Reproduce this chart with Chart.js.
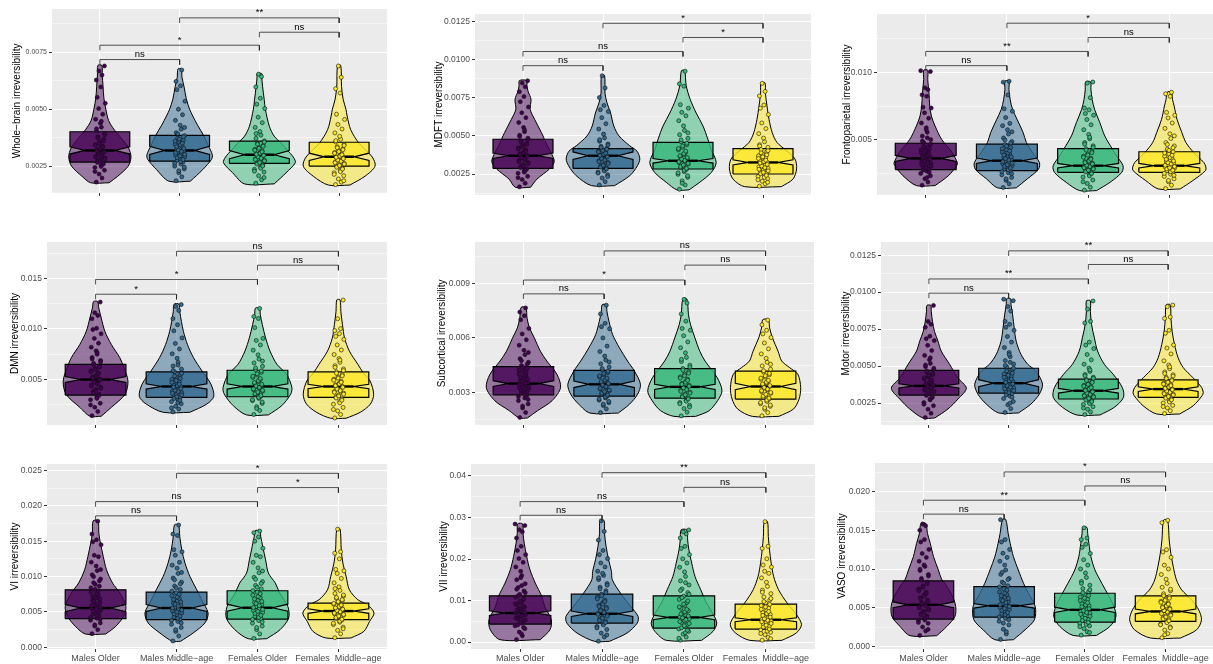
<!DOCTYPE html>
<html><head><meta charset="utf-8">
<script src="https://cdn.jsdelivr.net/npm/chart.js@4"></script>
<style>
html,body{margin:0;padding:0;background:#fff;overflow:hidden}
#wrap{position:relative;width:1213px;height:664px;overflow:hidden;background:#fff}
#wrap canvas{position:absolute}
</style></head>
<body><div id="wrap"></div>
<script>
// ---------------- DATA (all y values in units of UNIT) ----------------
const UNIT = 1e-5;
const categories = ['Males Older', 'Males Middle\u2212age', 'Females Older', 'Females  Middle\u2212age'];
const bracketPairs = [[1, 2], [1, 3], [3, 4], [2, 4]];

// Whole-brain
const wbTitle = 'Whole\u2212brain irreversibility';
const wbTicks = ['0.0025', '0.0050', '0.0075'];
const wbRange = [133, 940];
const wbBoxes = [[268,303,319,335,401],[272,301,319,337,385],[262,283,300,318,360],[250,275,291,307,355]];
const wbViolins = [
  [[177,0.23],[206,0.45],[250,0.71],[290,0.78],[330,0.72],[370,0.55],[410,0.36],[450,0.22],[500,0.15],[550,0.10],[600,0.08],[650,0.06],[692,0.05]],
  [[184,0.27],[235,0.58],[280,0.80],[300,0.82],[340,0.72],[385,0.60],[430,0.45],[470,0.33],[500,0.25],[544,0.17],[600,0.11],[640,0.06],[677,0.04]],
  [[172,0.37],[221,0.67],[265,0.90],[290,0.85],[320,0.70],[350,0.55],[382,0.37],[425,0.25],[500,0.15],[544,0.12],[600,0.08],[640,0.06],[656,0.06]],
  [[167,0.27],[206,0.65],[250,0.90],[290,0.83],[350,0.50],[410,0.29],[470,0.20],[500,0.17],[544,0.10],[600,0.06],[692,0.04]]
];
const wbPoints = [
  [180,198,215,232,244,255,262,271,279,286,293,300,308,314,322,329,337,345,356,368,379,392,405,421,438,456,478,503,526,552,598,628,650,668,690],
  [186,203,221,238,250,259,268,276,283,291,298,305,312,318,324,331,338,346,354,363,373,384,397,412,430,451,476,500,535,586,603,622,672],
  [175,190,208,224,236,246,255,263,270,276,282,288,294,299,304,310,317,324,332,341,350,361,372,386,402,420,441,465,503,522,548,598,643,654],
  [169,180,194,208,221,232,241,249,256,262,268,274,280,286,291,297,303,310,318,326,335,345,356,368,381,396,413,433,455,478,571,590,640,690]
];
const wbPoints2 = [
  [226,248,259,266,273,281,289,296,303,311,317,326,333,341,349,360,374,388,414,447],
  [230,246,263,270,279,287,295,302,309,315,321,328,335,343,351,360,369,379,392,420],
  [200,228,241,251,259,266,273,279,285,291,297,302,307,313,320,328,337,346,356,393],
  [186,214,226,237,245,253,259,265,271,277,283,289,294,300,307,314,322,331,341,362]
];
const wbBracketY = [718, 781, 838, 901];
const wbSig = ['ns', '*', 'ns', '**'];

// MDFT
const mdftTitle = 'MDFT irreversibility';
const mdftTicks = ['0.0025', '0.0050', '0.0075', '0.0100', '0.0125'];
const mdftRange = [113, 1300];
const mdftBoxes = [[287,352,370,388,478],[287,345,370,395,417],[283,322,337,352,457],[250,309,326,343,417]];
const mdftViolins = [
  [[163,0.19],[217,0.35],[283,0.66],[330,0.78],[380,0.72],[440,0.60],[500,0.50],[522,0.46],[609,0.29],[674,0.18],[740,0.20],[790,0.13],[826,0.10],[863,0.09]],
  [[174,0.29],[239,0.67],[304,0.86],[350,0.92],[400,0.85],[435,0.67],[500,0.40],[565,0.27],[650,0.19],[717,0.10],[780,0.05],[896,0.04]],
  [[146,0.15],[196,0.42],[261,0.71],[326,0.83],[413,0.70],[480,0.62],[565,0.50],[650,0.33],[740,0.18],[830,0.08],[928,0.04]],
  [[167,0.46],[217,0.75],[283,0.84],[348,0.80],[400,0.60],[457,0.35],[522,0.23],[609,0.15],[696,0.10],[780,0.06],[848,0.05]]
];
const mdftPoints = [
  [166,190,214,235,255,271,284,298,311,325,338,350,362,372,383,395,408,422,437,452,468,485,505,528,556,588,620,652,690,725,758,790,822,848,862],
  [178,200,224,245,262,276,289,301,313,325,337,348,358,367,375,383,391,400,409,419,432,447,465,487,512,545,580,620,660,672,700,752,815,895],
  [150,178,205,228,248,265,280,292,304,315,325,334,343,353,364,377,392,408,425,443,462,484,508,536,566,600,632,655,682,705,826,842,925],
  [170,186,203,220,234,246,256,266,276,287,298,308,318,327,336,346,357,369,382,396,410,425,442,462,486,515,548,585,640,682,703,762,792,845]
];
const mdftPoints2 = [
  [226,262,279,292,305,318,331,344,356,367,378,389,401,414,429,444,460,476,497,540],
  [233,256,270,283,295,307,319,331,342,352,362,371,379,387,395,404,413,425,440,475],
  [190,238,258,274,287,298,309,320,330,339,348,358,370,384,400,417,434,452,474,520],
  [196,212,228,241,252,261,271,281,292,303,313,322,331,341,352,363,376,389,403,434]
];
const mdftBracketY = [961, 1054, 1146, 1239];
const mdftSig = ['ns', 'ns', '*', '*'];

// Frontoparietal
const fpTitle = 'Frontoparietal irreversibility';
const fpTicks = ['0.005', '0.010'];
const fpRange = [93, 1431];
const fpBoxes = [[280,341,363,385,475],[272,326,346,366,468],[260,292,309,326,436],[260,292,309,326,412]];
const fpViolins = [
  [[162,0.23],[235,0.56],[309,0.76],[330,0.78],[407,0.65],[505,0.39],[603,0.23],[676,0.14],[750,0.10],[848,0.08],[946,0.05],[1015,0.05]],
  [[145,0.23],[211,0.50],[284,0.78],[333,0.80],[407,0.63],[480,0.48],[554,0.40],[652,0.25],[725,0.14],[799,0.08],[873,0.05],[934,0.05]],
  [[125,0.21],[186,0.54],[260,0.83],[309,0.86],[382,0.70],[456,0.55],[529,0.41],[627,0.29],[725,0.16],[799,0.10],[873,0.07],[929,0.06]],
  [[137,0.27],[199,0.58],[272,0.89],[300,0.90],[333,0.85],[407,0.60],[480,0.41],[554,0.31],[652,0.19],[750,0.12],[799,0.08],[853,0.05]]
];
const fpPoints = [
  [165,188,212,234,252,268,283,297,311,325,338,350,361,372,384,397,411,426,442,460,480,502,528,556,590,625,660,700,735,742,822,833,872,885,1005,1012],
  [148,175,200,222,241,257,272,285,298,310,322,334,345,356,368,381,395,410,426,444,465,488,514,543,575,605,622,665,712,730,832,927,934],
  [128,150,178,203,225,243,258,270,280,290,299,308,317,327,338,350,364,379,396,414,434,456,480,508,540,575,612,650,682,695,722,735,812,920,928],
  [140,165,190,212,230,246,259,270,280,290,299,308,317,327,338,350,363,378,394,412,432,455,480,510,545,585,625,662,682,703,822,841,852]
];
const fpPoints2 = [
  [222,260,276,290,304,318,331,344,356,367,378,390,404,418,434,451,470,492,515,575],
  [212,249,265,279,292,304,316,328,339,351,362,374,388,402,418,435,455,476,500,560],
  [190,234,250,264,275,285,294,303,312,322,332,344,357,371,387,405,424,445,468,520],
  [200,238,252,264,275,285,294,303,312,322,332,344,356,370,386,403,422,442,466,530]
];
const fpBracketY = [1049, 1154, 1257, 1363];
const fpSig = ['ns', '**', 'ns', '*'];

// DMN
const dmnTitle = 'DMN irreversibility';
const dmnTicks = ['0.005', '0.010', '0.015'];
const dmnRange = [47, 1861];
const dmnBoxes = [[343,467,497,527,648],[320,402,428,454,572],[326,402,428,454,589],[320,406,428,450,572]];
const dmnViolins = [
  [[133,0.14],[221,0.39],[352,0.73],[484,0.80],[615,0.70],[713,0.60],[844,0.39],[975,0.23],[1107,0.14],[1205,0.08],[1270,0.05]],
  [[172,0.33],[254,0.75],[330,0.92],[451,0.85],[582,0.63],[713,0.42],[844,0.27],[975,0.17],[1074,0.12],[1172,0.08],[1244,0.06]],
  [[146,0.27],[238,0.60],[352,0.82],[418,0.85],[549,0.72],[648,0.48],[779,0.31],[910,0.20],[1041,0.12],[1140,0.07],[1205,0.05]],
  [[113,0.19],[172,0.54],[254,0.79],[352,0.87],[484,0.78],[560,0.62],[648,0.48],[779,0.27],[910,0.15],[1041,0.10],[1172,0.06],[1287,0.04]]
];
const dmnPoints = [
  [138,180,222,262,296,325,350,375,398,420,442,463,483,502,522,542,563,585,608,632,658,686,716,748,782,818,858,905,950,992,1005,1100,1132,1160,1265],
  [176,205,232,256,278,299,318,335,352,368,384,399,414,428,443,460,478,498,520,545,572,600,632,668,708,752,800,855,910,980,1040,1102,1182,1222,1240],
  [150,190,228,260,288,310,330,348,365,381,397,412,427,442,458,476,496,518,542,568,596,628,662,700,742,788,840,885,905,1012,1102,1122,1202],
  [116,150,186,220,252,280,304,325,344,362,379,396,412,428,444,461,480,500,522,546,573,602,634,668,705,745,790,840,895,925,952,982,1002,1100,1285]
];
const dmnPoints2 = [
  [245,310,338,362,386,409,431,453,473,492,512,532,552,574,596,620,645,672,700,765],
  [215,268,290,309,327,344,360,376,391,406,421,436,451,469,488,509,532,558,586,640],
  [210,274,297,320,339,356,373,389,404,419,434,450,467,486,507,530,555,582,612,680],
  [200,266,292,314,334,352,370,387,403,420,436,452,470,490,511,534,559,587,618,690]
];
const dmnBracketY = [1343, 1490, 1631, 1769];
const dmnSig = ['*', '*', 'ns', 'ns'];

// Subcortical
const subTitle = 'Subcortical irreversibility';
const subTicks = ['0.003', '0.006', '0.009'];
const subRange = [122, 1127];
const subBoxes = [[287,333,349,365,442],[280,327,345,363,422],[269,317,331,345,431],[264,315,333,351,418]];
const subViolins = [
  [[160,0.10],[200,0.35],[255,0.71],[327,0.92],[400,0.83],[473,0.58],[527,0.42],[600,0.27],[655,0.15],[709,0.09],[767,0.06]],
  [[187,0.35],[236,0.63],[291,0.83],[345,0.90],[418,0.75],[473,0.58],[545,0.38],[618,0.21],[691,0.12],[745,0.07],[782,0.05]],
  [[169,0.27],[200,0.60],[255,0.81],[309,0.92],[382,0.80],[473,0.50],[527,0.37],[600,0.25],[673,0.14],[727,0.09],[814,0.05]],
  [[169,0.33],[209,0.69],[264,0.83],[327,0.87],[400,0.80],[436,0.60],[473,0.40],[527,0.31],[600,0.17],[655,0.10],[700,0.07]]
];
const subPoints = [
  [163,190,215,237,255,270,284,296,307,317,327,337,347,357,367,378,390,403,417,432,448,466,486,508,532,560,590,622,652,700,722,742,765],
  [190,210,228,244,258,270,281,291,301,310,319,328,337,346,355,364,374,385,397,410,424,440,458,478,500,525,555,600,650,662,680,732,780],
  [172,192,212,230,245,258,270,281,292,302,312,321,330,340,350,361,373,386,400,415,432,450,470,493,518,546,578,612,642,652,692,732,792,812],
  [172,190,208,224,238,251,263,274,285,295,305,315,324,333,342,352,362,373,385,398,412,428,446,466,488,512,540,572,602,622,642,672,698]
];
const subPoints2 = [
  [226,262,276,290,301,312,322,332,342,352,362,372,383,396,410,424,438,455,475,520],
  [236,251,264,276,286,296,305,314,323,332,341,350,360,369,379,391,404,417,432,468],
  [220,238,252,264,276,287,297,307,316,325,335,345,356,367,379,392,407,423,440,482],
  [216,231,245,258,269,280,290,300,310,319,328,338,347,357,367,379,392,405,420,455]
];
const subBracketY = [842, 918, 1000, 1078];
const subSig = ['ns', '*', 'ns', 'ns'];

// Motor
const motorTitle = 'Motor irreversibility';
const motorTicks = ['0.0025', '0.0050', '0.0075', '0.0100', '0.0125'];
const motorRange = [102, 1339];
const motorBoxes = [[304,352,366,380,471],[317,360,384,408,485],[277,317,333,349,411],[288,328,344,360,407]];
const motorViolins = [
  [[149,0.15],[210,0.48],[277,0.73],[350,0.94],[422,0.72],[512,0.52],[601,0.31],[668,0.23],[735,0.14],[803,0.09],[870,0.06],[910,0.05]],
  [[183,0.25],[243,0.56],[310,0.77],[378,0.85],[467,0.68],[512,0.48],[579,0.31],[668,0.19],[758,0.14],[847,0.10],[914,0.06],[955,0.05]],
  [[169,0.29],[221,0.65],[288,0.88],[355,0.85],[445,0.62],[512,0.40],[601,0.23],[691,0.15],[780,0.08],[870,0.05],[941,0.05]],
  [[176,0.29],[232,0.63],[299,0.85],[320,0.88],[355,0.84],[422,0.62],[489,0.38],[556,0.25],[646,0.16],[735,0.10],[825,0.07],[914,0.05]]
];
const motorPoints = [
  [152,180,208,232,253,271,287,301,314,326,337,348,358,367,377,388,400,413,427,442,458,476,496,518,543,572,605,640,672,685,702,762,782,802,910],
  [186,212,238,260,280,297,313,327,340,352,363,374,384,395,406,418,431,445,460,476,494,514,537,563,592,625,662,700,742,762,782,802,872,902,942,952],
  [172,190,208,225,240,253,265,276,286,295,304,313,322,331,340,349,359,370,382,395,409,425,443,463,486,512,542,578,618,642,662,792,802,885,940],
  [179,198,217,234,250,264,277,289,299,309,318,327,336,345,354,363,373,384,396,409,424,441,460,482,507,535,582,622,642,722,742,822,832,902,912]
];
const motorPoints2 = [
  [242,278,294,308,320,331,342,353,362,372,382,394,406,420,434,450,466,485,507,556],
  [249,289,305,320,334,346,357,368,379,390,400,412,424,438,452,468,485,504,525,578],
  [216,246,259,270,281,290,299,308,317,326,335,344,354,364,376,389,402,417,434,474],
  [226,257,271,283,294,304,313,322,331,340,349,358,368,378,390,402,416,432,450,495]
];
const motorBracketY = [993, 1089, 1187, 1279];
const motorSig = ['ns', '**', 'ns', '**'];

// VI
const viTitle = 'VI irreversibility';
const viTicks = ['0.000', '0.005', '0.010', '0.015', '0.020', '0.025'];
const viRange = [-24, 2594];
const viBoxes = [[405,505,556,607,814],[391,508,556,604,782],[400,510,560,610,800],[391,480,513,546,626]];
const viViolins = [
  [[188,0.25],[297,0.50],[438,0.69],[579,0.75],[767,0.60],[909,0.42],[1097,0.27],[1285,0.19],[1474,0.12],[1615,0.08],[1789,0.06]],
  [[85,0.10],[202,0.41],[344,0.70],[485,0.78],[673,0.62],[814,0.50],[1003,0.33],[1191,0.21],[1379,0.13],[1568,0.08],[1733,0.05]],
  [[122,0.23],[250,0.56],[414,0.77],[579,0.75],[767,0.55],[909,0.44],[1050,0.27],[1238,0.20],[1427,0.13],[1568,0.08],[1648,0.06]],
  [[132,0.31],[226,0.63],[367,0.77],[485,0.88],[600,0.72],[673,0.48],[814,0.27],[1003,0.19],[1191,0.11],[1379,0.07],[1676,0.04]]
];
const viPoints = [
  [192,250,300,345,382,410,440,470,498,525,550,575,602,632,665,700,738,778,820,865,915,968,1025,1085,1150,1205,1282,1302,1452,1492,1522,1602,1785],
  [90,160,225,280,325,365,396,428,458,487,515,542,568,596,626,658,692,730,772,818,868,922,980,1045,1120,1162,1202,1302,1352,1382,1582,1602,1730],
  [126,190,250,300,342,378,408,438,467,495,522,549,576,604,634,666,700,738,780,826,876,930,990,1055,1125,1202,1282,1302,1402,1502,1562,1622,1645],
  [136,190,240,285,322,355,384,410,433,455,475,494,512,530,549,568,588,610,634,660,690,724,762,805,855,912,975,1045,1082,1102,1252,1332,1352,1672]
];
const viPoints2 = [
  [320,396,425,455,484,512,538,562,588,617,648,682,718,758,798,842,890,940,1000,1100],
  [250,345,380,412,442,472,500,528,555,582,610,642,675,711,750,795,842,896,955,1060],
  [280,360,393,423,452,480,508,535,562,590,619,650,683,719,758,802,850,903,962,1080],
  [262,340,370,397,421,444,465,485,503,521,540,558,578,598,621,646,674,705,740,830]
];
const viBracketY = [1860, 2062, 2260, 2462];
const viSig = ['ns', 'ns', '*', '*'];

// VII
const viiTitle = 'VII irreversibility';
const viiTicks = ['0.00', '0.01', '0.02', '0.03', '0.04'];
const viiRange = [-168, 4289];
const viiBoxes = [[433,641,697,753,1114],[457,617,681,745,1154],[337,537,593,649,1114],[313,489,537,585,914]];
const viiViolins = [
  [[56,0.49],[297,0.73],[537,0.76],[858,0.60],[1098,0.53],[1419,0.37],[1740,0.24],[2060,0.16],[2381,0.10],[2621,0.07],[2846,0.06]],
  [[16,0.18],[216,0.61],[457,0.86],[617,0.88],[858,0.70],[1178,0.45],[1500,0.25],[1700,0.23],[1980,0.16],[2300,0.10],[2621,0.06],[2926,0.05]],
  [[40,0.43],[257,0.71],[457,0.80],[697,0.70],[938,0.55],[1259,0.41],[1579,0.27],[1900,0.19],[2220,0.12],[2461,0.09],[2701,0.07]],
  [[40,0.39],[216,0.74],[417,0.87],[657,0.75],[938,0.52],[1259,0.31],[1579,0.19],[1900,0.13],[2220,0.09],[2541,0.06],[2902,0.04]]
];
const viiPoints = [
  [60,150,240,320,390,450,505,555,603,650,695,740,787,838,892,950,1012,1080,1152,1230,1315,1405,1500,1600,1705,1810,1920,2010,2105,2205,2305,2505,2655,2705,2805,2842],
  [20,120,215,300,375,440,498,550,598,645,690,735,782,832,886,945,1010,1080,1155,1235,1320,1410,1505,1605,1655,1705,1810,1905,2010,2105,2205,2455,2665,2922],
  [44,120,190,255,315,370,422,470,516,560,604,650,700,755,815,880,950,1025,1105,1190,1280,1375,1475,1580,1690,1800,1905,2005,2105,2255,2305,2505,2605,2655,2700],
  [44,110,175,235,290,340,385,428,468,506,543,580,620,663,710,762,818,878,942,1010,1085,1165,1250,1340,1440,1545,1655,1705,1805,1855,2005,2255,2305,2900]
];
const viiPoints2 = [
  [200,350,410,478,530,580,628,672,718,763,812,865,920,980,1045,1115,1190,1270,1360,1550],
  [170,340,410,470,522,574,622,667,712,758,806,858,914,975,1042,1115,1195,1280,1370,1550],
  [90,225,285,340,395,446,493,538,582,627,675,727,784,846,915,990,1068,1150,1240,1430],
  [80,205,262,312,362,406,448,487,525,562,600,641,686,735,788,846,908,975,1048,1200]
];
const viiBracketY = [3054, 3383, 3727, 4080];
const viiSig = ['ns', 'ns', 'ns', '**'];

// VASO
const vasoTitle = 'VASO irreversibility';
const vasoTicks = ['0.000', '0.005', '0.010', '0.015', '0.020'];
const vasoRange = [-34, 2374];
const vasoBoxes = [[353,500,538,576,847],[378,495,525,555,774],[314,439,473,507,688],[323,421,452,483,654]];
const vasoViolins = [
  [[138,0.33],[258,0.58],[387,0.78],[516,0.80],[650,0.72],[800,0.55],[870,0.45],[989,0.37],[1161,0.25],[1333,0.17],[1462,0.10],[1591,0.06]],
  [[86,0.23],[215,0.52],[344,0.75],[516,0.77],[688,0.60],[817,0.48],[989,0.35],[1161,0.23],[1333,0.15],[1462,0.10],[1643,0.04]],
  [[142,0.29],[258,0.62],[387,0.77],[516,0.72],[645,0.60],[817,0.42],[989,0.25],[1161,0.15],[1333,0.10],[1462,0.07],[1540,0.05]],
  [[108,0.37],[215,0.77],[344,0.89],[473,0.82],[600,0.65],[731,0.40],[860,0.27],[1032,0.19],[1204,0.13],[1376,0.09],[1634,0.05]]
];
const vasoPoints = [
  [142,200,252,298,335,365,395,425,455,484,512,540,568,598,630,665,702,742,786,832,880,930,982,1035,1055,1102,1152,1202,1255,1352,1382,1502,1562,1585],
  [90,160,222,278,325,362,395,425,453,479,504,528,553,580,608,638,670,705,744,786,832,880,932,988,1052,1102,1152,1205,1255,1352,1382,1640],
  [146,190,230,265,295,322,350,377,403,428,452,476,500,525,551,578,607,638,672,708,748,792,840,892,950,1002,1052,1122,1202,1282,1322,1382,1402,1535],
  [112,165,212,252,288,318,345,370,393,414,434,453,472,492,513,535,558,584,612,644,680,720,765,815,870,930,1002,1052,1152,1222,1252,1602,1632]
];
const vasoPoints2 = [
  [220,310,340,380,410,440,470,498,526,554,583,614,648,684,723,765,810,858,910,1000],
  [190,300,345,380,410,438,465,491,516,541,566,593,622,654,690,728,770,815,865,960],
  [180,255,285,310,336,362,390,415,440,464,488,512,538,565,594,625,658,694,732,815],
  [150,240,280,306,331,356,381,403,424,444,463,482,502,523,546,570,596,624,656,740]
];
const vasoBracketY = [1712, 1892, 2077, 2258];
const vasoSig = ['ns', '**', 'ns', '*'];

// ---------------- STYLE / LAYOUT ----------------
const FILLS = [[68,1,84],[49,104,142],[53,183,121],[253,231,37]];
const JITTER = [-0.045,0.027,-0.010,0.058,-0.062,0.016,0.042,-0.030,0.004,0.064,-0.050,0.022,-0.018,0.053,-0.037,0.010,0.034,-0.057,-0.004,0.047,-0.024,0.062,-0.042,0.019,0.007,-0.053,0.036,-0.015,0.068,-0.033,0.012];
const LAYOUT = [
  {x:0,   y:0,   left:52,  right:387,  top:9,   bottom:193, titleX:17,  tickFont:7},
  {x:410, y:0,   left:475, right:811,  top:14,  bottom:196, titleX:439, tickFont:8.5},
  {x:820, y:0,   left:877, right:1218, top:14,  bottom:196, titleX:847, tickFont:8.5},
  {x:0,   y:225, left:47,  right:387,  top:242, bottom:426, titleX:15,  tickFont:8.5},
  {x:410, y:225, left:475, right:814,  top:242, bottom:426, titleX:442, tickFont:8.5},
  {x:820, y:225, left:881, right:1216, top:242, bottom:426, titleX:846, tickFont:8.5},
  {x:0,   y:450, left:47,  right:387,  top:464, bottom:649, titleX:15,  tickFont:8.5, xlabels:true},
  {x:410, y:450, left:471, right:815,  top:464, bottom:649, titleX:444, tickFont:8.5, xlabels:true},
  {x:820, y:450, left:875, right:1214, top:463, bottom:649, titleX:842, tickFont:8.5, xlabels:true}
];
const join = (a, b) => a.map((arr, g) => arr.concat(b[g]));
const PANELS = [
  {title:wbTitle, ticks:wbTicks, range:wbRange, boxes:wbBoxes, violins:wbViolins, points:join(wbPoints, wbPoints2), br:wbBracketY, sig:wbSig},
  {title:mdftTitle, ticks:mdftTicks, range:mdftRange, boxes:mdftBoxes, violins:mdftViolins, points:join(mdftPoints, mdftPoints2), br:mdftBracketY, sig:mdftSig},
  {title:fpTitle, ticks:fpTicks, range:fpRange, boxes:fpBoxes, violins:fpViolins, points:join(fpPoints, fpPoints2), br:fpBracketY, sig:fpSig},
  {title:dmnTitle, ticks:dmnTicks, range:dmnRange, boxes:dmnBoxes, violins:dmnViolins, points:join(dmnPoints, dmnPoints2), br:dmnBracketY, sig:dmnSig},
  {title:subTitle, ticks:subTicks, range:subRange, boxes:subBoxes, violins:subViolins, points:join(subPoints, subPoints2), br:subBracketY, sig:subSig},
  {title:motorTitle, ticks:motorTicks, range:motorRange, boxes:motorBoxes, violins:motorViolins, points:join(motorPoints, motorPoints2), br:motorBracketY, sig:motorSig},
  {title:viTitle, ticks:viTicks, range:viRange, boxes:viBoxes, violins:viViolins, points:join(viPoints, viPoints2), br:viBracketY, sig:viSig},
  {title:viiTitle, ticks:viiTicks, range:viiRange, boxes:viiBoxes, violins:viiViolins, points:join(viiPoints, viiPoints2), br:viiBracketY, sig:viiSig},
  {title:vasoTitle, ticks:vasoTicks, range:vasoRange, boxes:vasoBoxes, violins:vasoViolins, points:join(vasoPoints, vasoPoints2), br:vasoBracketY, sig:vasoSig}
];

Chart.defaults.font.family = "'Liberation Sans', Arial, sans-serif";
const rgba = (c, a) => `rgba(${c[0]},${c[1]},${c[2]},${a})`;
const BOX_HALF = 0.375, NOTCH_IN = 0.1875;

function violinPath(i, prof) {
  const r = prof.map(([y, w]) => ({x: i + w / 2, y: y * UNIT}));
  const l = prof.slice().reverse().map(([y, w]) => ({x: i - w / 2, y: y * UNIT}));
  return r.concat(l, [r[0]]);
}
function boxPath(i, b) {
  const [q1, nlo, med, nhi, q3] = b.map(v => v * UNIT);
  const L = i - BOX_HALF, R = i + BOX_HALF;
  return [[L,q1],[L,nlo],[L+NOTCH_IN,med],[L,nhi],[L,q3],[R,q3],[R,nhi],[R-NOTCH_IN,med],[R,nlo],[R,q1],[L,q1]].map(([x,y]) => ({x, y}));
}

function buildPanel(p, lay) {
  const yMin = p.range[0] * UNIT, yMax = p.range[1] * UNIT;
  const majors = p.ticks.map(Number);
  const step = majors.length > 1 ? majors[1] - majors[0] : majors[0];
  const tickVals = [];
  for (let k = -1; k <= majors.length; k++) {
    const mj = majors[0] + k * step;
    if (k >= 0 && k < majors.length) tickVals.push({value: majors[k], major: true});
    else if (mj >= yMin && mj <= yMax) tickVals.push({value: mj, major: true});
    const mn = mj + step / 2;
    if (mn >= yMin && mn <= yMax && k < majors.length) tickVals.push({value: mn, major: false});
  }
  tickVals.sort((a, b) => a.value - b.value);

  const datasets = [];
  for (let g = 0; g < 4; g++) {
    const i = g + 1, col = FILLS[g];
    datasets.push({type:'line', data: violinPath(i, p.violins[g]), borderColor:'#000', borderWidth:1,
      backgroundColor: rgba(col, 0.5), fill:'shape', tension:0.3, pointRadius:0, order:10});
    datasets.push({type:'line', data: boxPath(i, p.boxes[g]), borderColor:'#000', borderWidth:1.2,
      backgroundColor: rgba(col, 0.8), fill:'shape', tension:0, pointRadius:0, order:8});
    datasets.push({type:'line', data: [{x:i-BOX_HALF+NOTCH_IN, y:p.boxes[g][2]*UNIT},{x:i+BOX_HALF-NOTCH_IN, y:p.boxes[g][2]*UNIT}],
      borderColor:'#000', borderWidth:2.4, fill:false, pointRadius:0, order:7});
    datasets.push({type:'scatter', data: p.points[g].map((v, k) => ({x: i + JITTER[k % JITTER.length], y: v * UNIT})),
      backgroundColor: rgba(col, 1), borderColor:'#111', borderWidth:0.6, pointRadius:2.0, order:5});
  }
  const tip = 0.028 * (yMax - yMin);
  bracketPairs.forEach(([a, b], k) => {
    const h = p.br[k] * UNIT;
    datasets.push({type:'line', data:[{x:a,y:h-tip},{x:a,y:h},{x:b,y:h},{x:b,y:h-tip}],
      borderColor:'rgba(40,40,40,0.9)', borderWidth:0.9, fill:false, pointRadius:0, tension:0, order:1});
  });

  const xAxisH = lay.xlabels ? 15 : 6;
  const cw = lay.right - lay.x, ch = lay.bottom - lay.y + xAxisH;
  const canvas = document.createElement('canvas');
  canvas.width = cw; canvas.height = ch;
  canvas.style.left = lay.x + 'px'; canvas.style.top = lay.y + 'px';
  canvas.style.width = cw + 'px'; canvas.style.height = ch + 'px';
  document.getElementById('wrap').appendChild(canvas);

  const panelPlugin = {
    id: 'panelDecor',
    beforeDraw(chart) {
      const {ctx, chartArea: a} = chart;
      ctx.save(); ctx.fillStyle = '#EBEBEB';
      ctx.fillRect(a.left, a.top, a.right - a.left, a.bottom - a.top); ctx.restore();
    },
    afterDatasetsDraw(chart) {
      const {ctx, scales: {x, y}} = chart;
      ctx.save();
      ctx.fillStyle = '#000'; ctx.font = "9.5px 'Liberation Sans', Arial, sans-serif";
      ctx.textAlign = 'center'; ctx.textBaseline = 'bottom';
      bracketPairs.forEach(([a, b], k) => {
        ctx.fillText(p.sig[k], x.getPixelForValue((a + b) / 2), y.getPixelForValue(p.br[k] * UNIT) - 0.5);
      });
      ctx.restore();
    },
    afterDraw(chart) {
      const {ctx, chartArea: a} = chart;
      ctx.save();
      ctx.translate(lay.titleX - lay.x, (a.top + a.bottom) / 2);
      ctx.rotate(-Math.PI / 2);
      ctx.fillStyle = '#000'; ctx.font = "10px 'Liberation Sans', Arial, sans-serif";
      ctx.textAlign = 'center'; ctx.textBaseline = 'middle';
      ctx.fillText(p.title, 0, 0);
      ctx.restore();
    }
  };

  new Chart(canvas, {
    type: 'line',
    data: {datasets},
    plugins: [panelPlugin],
    options: {
      responsive: false, animation: false, devicePixelRatio: 1, events: [],
      layout: {padding: {top: lay.top - lay.y, left: 0, right: 0, bottom: 0}, autoPadding: false},
      plugins: {legend: {display: false}, tooltip: {enabled: false}},
      scales: {
        x: {
          type: 'linear', min: 0.4, max: 4.6,
          afterBuildTicks: (ax) => { ax.ticks = [1, 2, 3, 4].map(v => ({value: v})); },
          afterFit: (ax) => { ax.height = xAxisH; },
          border: {display: false},
          grid: {color: '#FFFFFF', lineWidth: 1, tickColor: '#333333', tickLength: 3, tickWidth: 1},
          ticks: {autoSkip: false, maxRotation: 0, padding: 1, color: '#4D4D4D',
            font: {size: 9}, callback: (v) => lay.xlabels ? categories[Math.round(v) - 1] : ''}
        },
        y: {
          type: 'linear', min: yMin, max: yMax,
          afterBuildTicks: (ax) => { ax.ticks = tickVals.map(t => ({value: t.value, major: t.major})); },
          afterFit: (ax) => { ax.width = lay.left - lay.x; },
          border: {display: false},
          grid: {color: '#FFFFFF',
            lineWidth: (c) => (c.tick && c.tick.major) ? 1 : 0.5,
            tickColor: (c) => (c.tick && c.tick.major) ? '#333333' : 'rgba(0,0,0,0)',
            tickLength: 3, tickWidth: 1},
          ticks: {autoSkip: false, padding: 2, color: '#4D4D4D', font: {size: lay.tickFont},
            callback: (v) => { const s = p.ticks.find(t => Math.abs(Number(t) - v) < 1e-9); return s || ''; }}
        }
      }
    }
  });
}

PANELS.forEach((p, k) => buildPanel(p, LAYOUT[k]));
</script>
</body></html>
